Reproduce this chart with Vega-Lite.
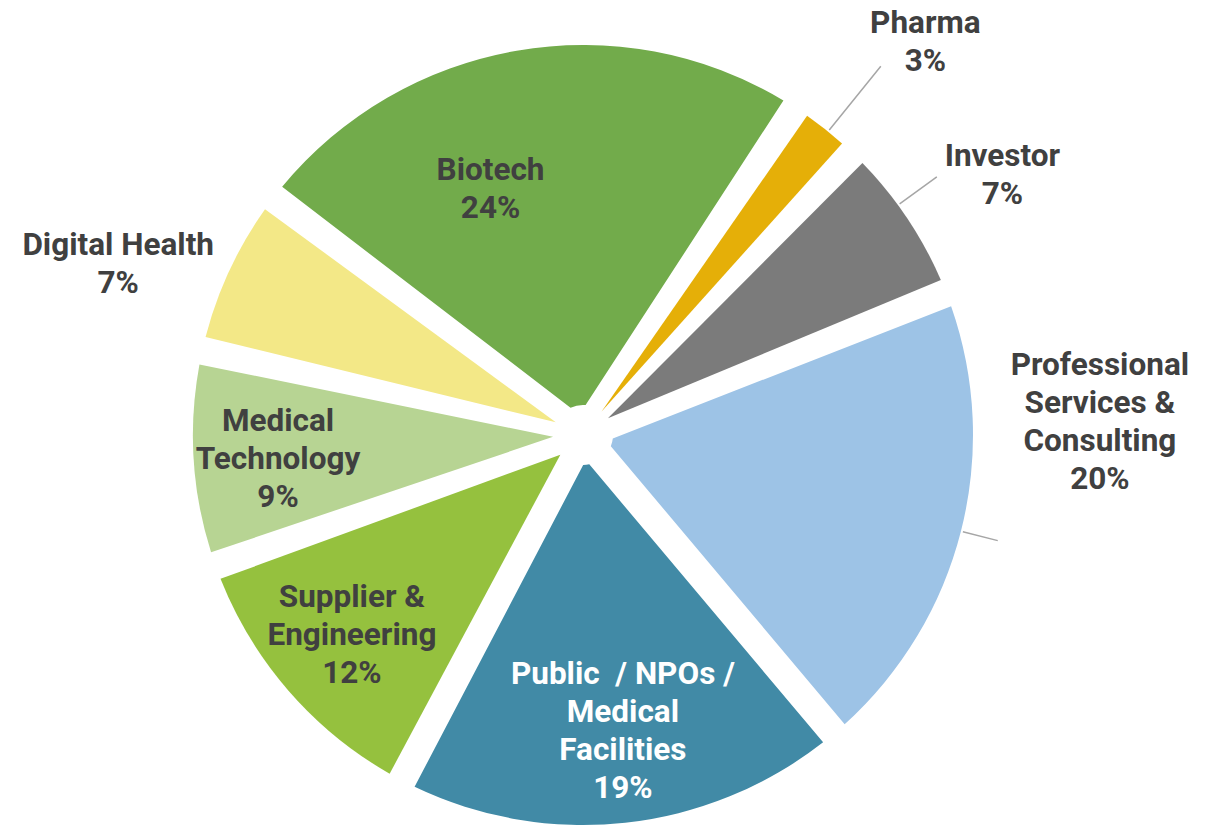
{
  "$schema": "https://vega.github.io/schema/vega-lite/v6.json",
  "width": 1166,
  "height": 794,
  "autosize": {"type": "none"},
  "padding": {"left": 0, "top": 38, "right": 57, "bottom": 0},
  "background": "white",
  "config": {"view": {"stroke": null}, "text": {"font": "Roboto", "fontWeight": "bold", "fontSize": 31.5, "lineHeight": 38, "color": "#404040"}},
  "data": {"values": [
    {"idx": 1, "cat": "Pharma", "pct": 3, "label": "Pharma\n3%"},
    {"idx": 2, "cat": "Investor", "pct": 7, "label": "Investor\n7%"},
    {"idx": 3, "cat": "Professional Services & Consulting", "pct": 20, "label": "Professional\nServices &\nConsulting\n20%"},
    {"idx": 4, "cat": "Public / NPOs / Medical Facilities", "pct": 19, "label": "Public \u00a0/ NPOs /\nMedical\nFacilities\n19%"},
    {"idx": 5, "cat": "Supplier & Engineering", "pct": 12, "label": "Supplier &\nEngineering\n12%"},
    {"idx": 6, "cat": "Medical Technology", "pct": 9, "label": "Medical\nTechnology\n9%"},
    {"idx": 7, "cat": "Digital Health", "pct": 7, "label": "Digital Health\n7%"},
    {"idx": 8, "cat": "Biotech", "pct": 24, "label": "Biotech\n24%"}
  ]},
  "encoding": {
    "theta": {"field": "pct", "type": "quantitative", "stack": true, "scale": {"range": [0.576, 6.859]}},
    "order": {"field": "idx", "type": "quantitative"}
  },
  "layer": [
    {
      "mark": {"type": "arc", "innerRadius": 30, "outerRadius": 390, "padAngle": 0.072},
      "encoding": {
        "color": {"field": "cat", "type": "nominal", "legend": null, "sort": null,
          "scale": {"domain": ["Pharma", "Investor", "Professional Services & Consulting", "Public / NPOs / Medical Facilities", "Supplier & Engineering", "Medical Technology", "Digital Health", "Biotech"],
                    "range": ["#E5AF08", "#7B7B7B", "#9DC3E6", "#418AA6", "#95C13E", "#B7D493", "#F3E887", "#72AB4B"]}}
      }
    },
    {
      "mark": {"type": "arc", "innerRadius": 392, "outerRadius": 474, "padAngle": 3, "fillOpacity": 0, "stroke": "#A6A6A6", "strokeWidth": 1.5, "thetaOffset": 0.01},
      "encoding": {"opacity": {"condition": {"test": "datum.cat === 'Pharma'", "value": 1}, "value": 0}}
    },
    {
      "mark": {"type": "arc", "innerRadius": 392, "outerRadius": 438, "padAngle": 3, "fillOpacity": 0, "stroke": "#A6A6A6", "strokeWidth": 1.5, "thetaOffset": -0.04},
      "encoding": {"opacity": {"condition": {"test": "datum.cat === 'Investor'", "value": 1}, "value": 0}}
    },
    {
      "mark": {"type": "arc", "innerRadius": 392, "outerRadius": 428, "padAngle": 3, "fillOpacity": 0, "stroke": "#A6A6A6", "strokeWidth": 1.5},
      "encoding": {"opacity": {"condition": {"test": "datum.cat === 'Professional Services & Consulting'", "value": 1}, "value": 0}}
    },
    {
      "mark": {"type": "text", "radius": 306, "thetaOffset": -0.02, "dy": -38, "lineBreak": "\n", "align": "center", "baseline": "middle"},
      "encoding": {"text": {"condition": {"test": "datum.cat === 'Medical Technology'", "field": "label"}, "value": ""}}
    },
    {
      "mark": {"type": "text", "radius": 306, "dy": -38, "lineBreak": "\n", "align": "center", "baseline": "middle"},
      "encoding": {"text": {"condition": {"test": "datum.cat === 'Supplier & Engineering'", "field": "label"}, "value": ""}}
    },
    {
      "mark": {"type": "text", "radius": 262, "thetaOffset": -0.19, "dy": -19, "lineBreak": "\n", "align": "center", "baseline": "middle"},
      "encoding": {"text": {"condition": {"test": "datum.cat === 'Biotech'", "field": "label"}, "value": ""}}
    },
    {
      "mark": {"type": "text", "radius": 300, "thetaOffset": -0.025, "dy": -57, "lineBreak": "\n", "align": "center", "baseline": "middle", "color": "white"},
      "encoding": {"text": {"condition": {"test": "datum.cat === 'Public / NPOs / Medical Facilities'", "field": "label"}, "value": ""}}
    },
    {
      "mark": {"type": "text", "radius": 522, "thetaOffset": 0.046, "dy": -17, "lineBreak": "\n", "align": "center", "baseline": "middle"},
      "encoding": {"text": {"condition": {"test": "datum.cat === 'Pharma'", "field": "label"}, "value": ""}}
    },
    {
      "mark": {"type": "text", "radius": 493, "thetaOffset": 0.037, "dy": -19, "lineBreak": "\n", "align": "center", "baseline": "middle"},
      "encoding": {"text": {"condition": {"test": "datum.cat === 'Investor'", "field": "label"}, "value": ""}}
    },
    {
      "mark": {"type": "text", "radius": 495, "thetaOffset": -0.085, "dy": -19, "lineBreak": "\n", "align": "center", "baseline": "middle"},
      "encoding": {"text": {"condition": {"test": "datum.cat === 'Digital Health'", "field": "label"}, "value": ""}}
    },
    {
      "mark": {"type": "text", "radius": 517, "thetaOffset": -0.272, "dy": -57, "lineBreak": "\n", "align": "center", "baseline": "middle"},
      "encoding": {"text": {"condition": {"test": "datum.cat === 'Professional Services & Consulting'", "field": "label"}, "value": ""}}
    }
  ]
}
